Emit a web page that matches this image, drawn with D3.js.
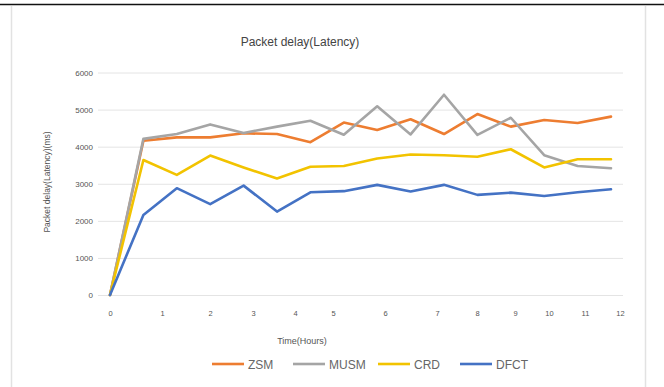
<!DOCTYPE html>
<html>
<head>
<meta charset="utf-8">
<script src="https://cdn.jsdelivr.net/npm/d3@7"></script>
<style>
  html, body { margin: 0; padding: 0; background: #fff; }
  svg { display: block; font-family: "Liberation Sans", Arial, sans-serif; }
</style>
</head>
<body>
<svg id="chart" width="664" height="387"></svg>
<script>
// Packet delay per sample, 16 samples over a 12-hour run
const samples = d3.range(16);
const seriesNames = ["ZSM", "MUSM", "CRD", "DFCT"];
const zsm  = [0, 4160, 4250, 4250, 4360, 4340, 4120, 4650, 4450, 4740, 4340, 4880, 4540, 4720, 4640, 4810];
const musm = [0, 4210, 4340, 4600, 4370, 4540, 4700, 4320, 5090, 4330, 5400, 4320, 4780, 3770, 3480, 3420];
const crd  = [0, 3640, 3240, 3760, 3440, 3140, 3460, 3480, 3680, 3790, 3770, 3730, 3930, 3440, 3660, 3660];
const dfct = [0, 2160, 2880, 2450, 2950, 2250, 2770, 2800, 2970, 2790, 2970, 2700, 2760, 2670, 2770, 2850];
const yTicks = [0, 1000, 2000, 3000, 4000, 5000, 6000];
const hourTicks = [0, 1, 2, 3, 4, 5, 6, 7, 8, 9, 10, 11, 12];
const colors = ["#ED7D31", "#A5A5A5", "#F2C300", "#4472C4"];

const svg = d3.select("#chart");

// page frame
svg.append("line").attr("x1", 0).attr("x2", 664).attr("y1", 4.5).attr("y2", 4.5)
  .attr("stroke", "#111").attr("stroke-width", 1.6);
svg.append("line").attr("x1", 11.5).attr("x2", 11.5).attr("y1", 6).attr("y2", 387)
  .attr("stroke", "#e2e2e2").attr("stroke-width", 1.5);
svg.append("line").attr("x1", 645.5).attr("x2", 645.5).attr("y1", 6).attr("y2", 387)
  .attr("stroke", "#e2e2e2").attr("stroke-width", 1.5);

const x = d3.scalePoint().domain(samples).range([110, 611]);
const y = d3.scaleLinear().domain([0, 6000]).range([295, 72.5]);
// hour labels sit along the time axis at their own spacing
const hourX = d3.scaleLinear().domain(hourTicks)
  .range([110, 162, 210, 253, 295, 333, 385, 437, 477, 515, 549, 585, 620]);

// gridlines
svg.append("g").selectAll("line").data(yTicks).join("line")
  .attr("x1", 98).attr("x2", 623)
  .attr("y1", d => y(d) + 0.5).attr("y2", d => y(d) + 0.5)
  .attr("stroke", "#e4e4e4").attr("stroke-width", 1);

// y axis labels
const yAxis = d3.axisLeft(y).tickValues(yTicks).tickFormat(d3.format("d"))
  .tickSize(0).tickPadding(0);
svg.append("g").attr("transform", "translate(93,0)").call(yAxis)
  .call(g => g.select(".domain").remove())
  .selectAll("text").attr("font-size", 8).attr("fill", "#555");

// x axis labels
const xAxis = d3.axisBottom(hourX).tickValues(hourTicks).tickSize(0).tickPadding(0);
svg.append("g").attr("transform", "translate(0,311)").call(xAxis)
  .call(g => g.select(".domain").remove())
  .selectAll("text").attr("font-size", 7.5).attr("fill", "#555");

// lines
const line = d3.line().x((d, i) => x(samples[i])).y(d => y(d));
const allSeries = [zsm, musm, crd, dfct];
svg.append("g").selectAll("path").data(allSeries).join("path")
  .attr("d", d => line(d))
  .attr("fill", "none")
  .attr("stroke", (d, i) => colors[i])
  .attr("stroke-width", 2.6)
  .attr("stroke-linejoin", "round")
  .attr("stroke-linecap", "round");

// titles
svg.append("text").attr("x", 300).attr("y", 46).attr("text-anchor", "middle")
  .attr("font-size", 12).attr("fill", "#444").text("Packet delay(Latency)");
svg.append("text").attr("transform", "translate(50,182) rotate(-90)")
  .attr("text-anchor", "middle").attr("font-size", 8.5).attr("fill", "#555")
  .text("Packet delay(Latency)(ms)");
svg.append("text").attr("x", 302).attr("y", 344).attr("text-anchor", "middle")
  .attr("font-size", 9).attr("fill", "#555").text("Time(Hours)");

// legend
const legendX = [212, 293, 378, 460];
const lg = svg.append("g").selectAll("g").data(seriesNames).join("g")
  .attr("transform", (d, i) => `translate(${legendX[i]},364)`);
lg.append("line").attr("x1", 0).attr("x2", 32).attr("y1", 0).attr("y2", 0)
  .attr("stroke", (d, i) => colors[i]).attr("stroke-width", 2.6);
lg.append("text").attr("x", 36).attr("y", 4.5).attr("font-size", 12)
  .attr("fill", "#666").text(d => d);
</script>
</body>
</html>
